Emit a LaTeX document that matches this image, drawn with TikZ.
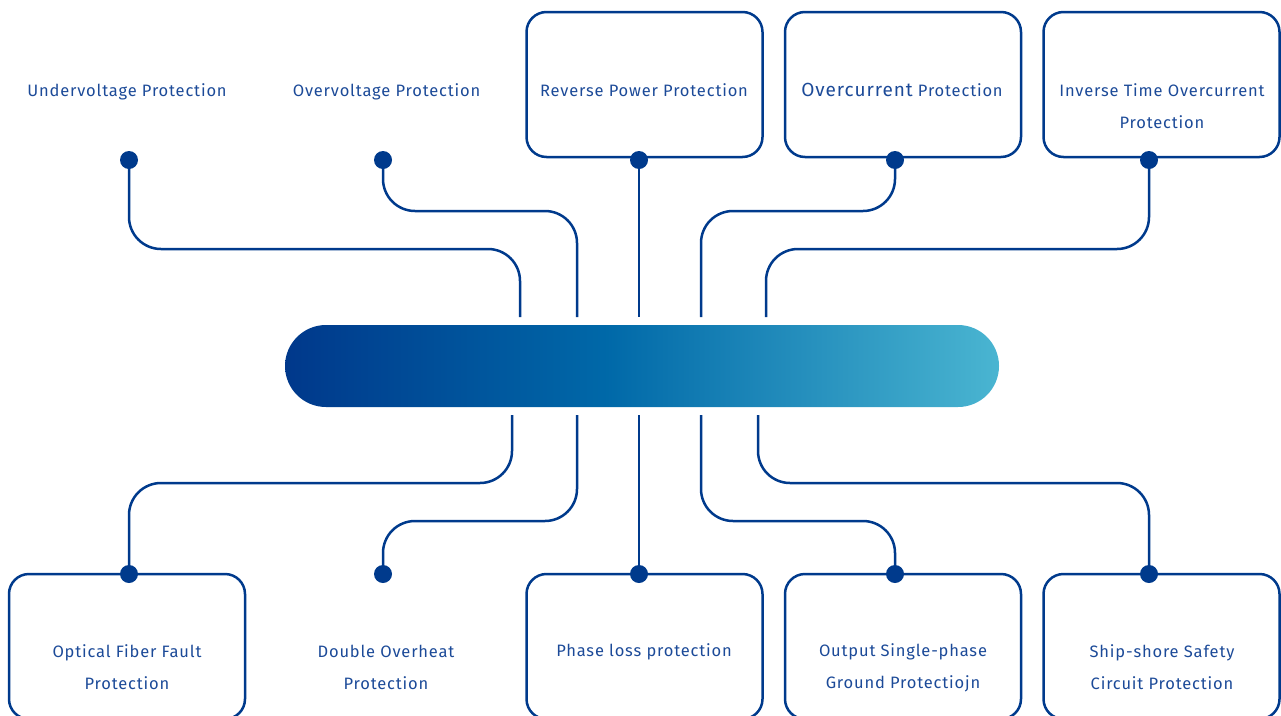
\documentclass[tikz,border=0pt]{standalone}
\usepackage{fontspec}
\setmainfont[LetterSpace=5]{Fira Sans}
\definecolor{lineblue}{RGB}{0,58,140}
\definecolor{txtblue}{RGB}{28,74,152}
\pgfdeclarehorizontalshading{barshade}{100bp}{rgb(0bp)=(0,0.22,0.545); rgb(25bp)=(0,0.22,0.545); rgb(47.5bp)=(0,0.41,0.66); rgb(75bp)=(0.29,0.71,0.82); rgb(100bp)=(0.29,0.71,0.82)}
\tikzset{
  conn/.style={draw=lineblue, line width=2.5pt, rounded corners=32pt},
  dotnode/.style={circle, fill=lineblue, inner sep=0pt, minimum size=18pt},
  boxnode/.style={draw=lineblue, line width=2.5pt, rounded corners=20pt, minimum width=236pt, minimum height=145pt, inner sep=0pt},
  lbl/.style={text=txtblue, font=\fontsize{16.5}{32}\selectfont, align=center, inner sep=0pt}
}
\begin{document}
\begin{tikzpicture}[x=1pt,y=-1pt]
\useasboundingbox (0,0) rectangle (1281,715);
% boxes
\node[boxnode] (bRev) at (644.5,84.5) {};
\node[boxnode] (bOvc) at (903,84.5) {};
\node[boxnode] (bInv) at (1161.5,84.5) {};
\node[boxnode] (bOpt) at (127,646.5) {};
\node[boxnode] (bPha) at (644.5,646.5) {};
\node[boxnode] (bOut) at (903,646.5) {};
\node[boxnode] (bShp) at (1161.5,646.5) {};
% bar
\shade[shading=barshade, rounded corners=41pt] (285,325) rectangle (999,407);
\coordinate (t1) at (520,317);
\coordinate (t2) at (577,317);
\coordinate (t3) at (639,317);
\coordinate (t4) at (701,317);
\coordinate (t5) at (766,317);
\coordinate (u1) at (512,415);
\coordinate (u2) at (577,415);
\coordinate (u3) at (639,415);
\coordinate (u4) at (701,415);
\coordinate (u5) at (758,415);
% dots
\node[dotnode] (dUv) at (129,160) {};
\node[dotnode] (dOv) at (383,160) {};
\node[dotnode] (dRp) at (639,160) {};
\node[dotnode] (dOc) at (895,160) {};
\node[dotnode] (dIt) at (1149,160) {};
\node[dotnode] (dOf) at (129,574) {};
\node[dotnode] (dDo) at (383,574) {};
\node[dotnode] (dPl) at (639,574) {};
\node[dotnode] (dOs) at (895,574) {};
\node[dotnode] (dSs) at (1149,574) {};
% connectors
\draw[conn] (dUv.center) -- (129,249) -- (t1 |- 0,249) -- (t1);
\draw[conn] (dOv.center) -- (383,211) -- (t2 |- 0,211) -- (t2);
\draw[conn] (dRp.center) -- (t3);
\draw[conn] (dOc.center) -- (895,211) -- (t4 |- 0,211) -- (t4);
\draw[conn] (dIt.center) -- (1149,249) -- (t5 |- 0,249) -- (t5);
\draw[conn] (u1) -- (512,483) -- (129,483) -- (dOf.center);
\draw[conn] (u2) -- (577,521) -- (383,521) -- (dDo.center);
\draw[conn] (u3) -- (dPl.center);
\draw[conn] (u4) -- (701,521) -- (895,521) -- (dOs.center);
\draw[conn] (u5) -- (758,483) -- (1149,483) -- (dSs.center);
% labels
\node[lbl] (lUv) at (127,92) {Undervoltage Protection};
\node[lbl] (lOv) at (386.5,92) {Overvoltage Protection};
\node[lbl] (lRp) at (644,90) {Reverse Power Protection};
\node[lbl] (lOc) at (902,90) {{\fontsize{19}{32}\selectfont Overcurrent} Protection};
\node[lbl] (lIt) at (1162,106) {Inverse Time Overcurrent\\Protection};
\node[lbl] (lOf) at (127,666.7) {Optical Fiber Fault\\Protection};
\node[lbl] (lDo) at (386,667.5) {Double Overheat\\Protection};
\node[lbl] (lPl) at (644,652) {Phase loss protection};
\node[lbl] (lOs) at (903,668) {Output Single-phase\\Ground Protectiojn};
\node[lbl] (lSs) at (1162,666.7) {Ship-shore Safety\\Circuit Protection};
\end{tikzpicture}
\end{document}
